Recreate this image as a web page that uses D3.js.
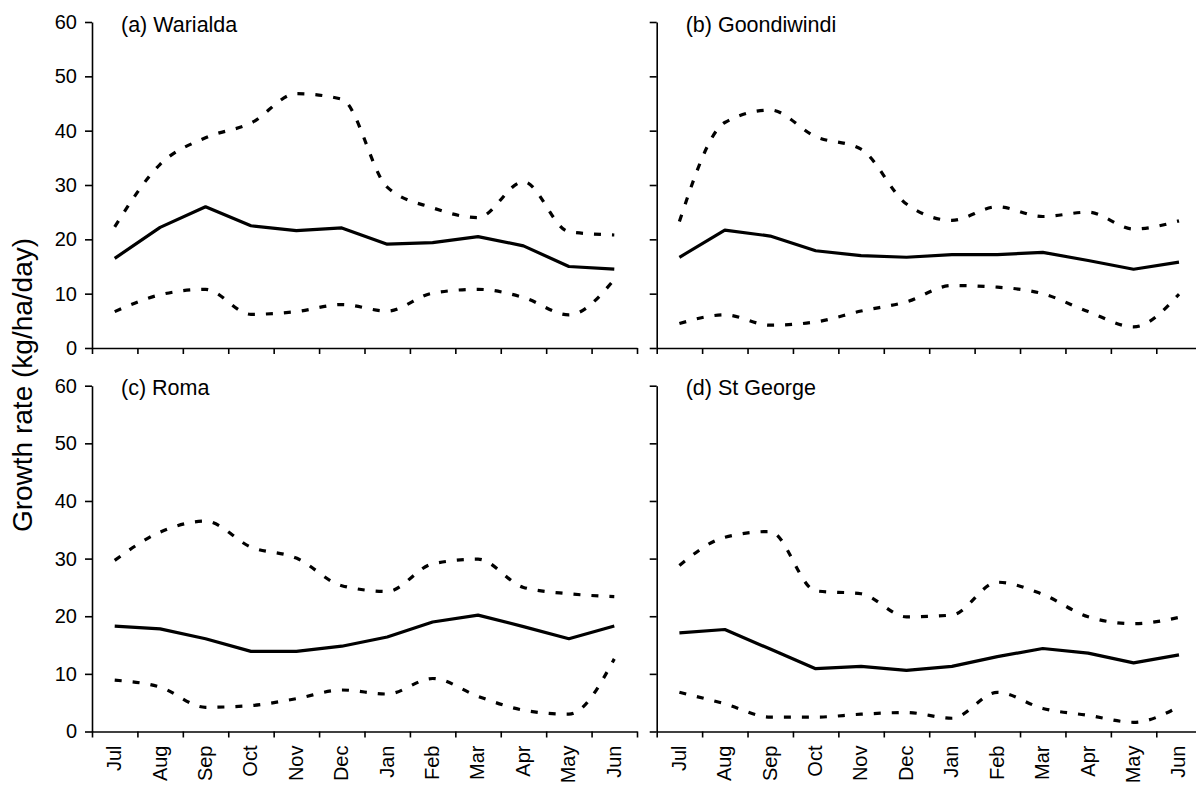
<!DOCTYPE html>
<html>
<head>
<meta charset="utf-8">
<script src="https://cdn.jsdelivr.net/npm/d3@7"></script>
<style>
  html, body { margin: 0; padding: 0; background: #fff; }
  svg { display: block; }
  text { font-family: "Liberation Sans", Arial, sans-serif; fill: #000; }
</style>
</head>
<body>
<svg id="chart" width="1196" height="785"></svg>
<script>
// Months of the growing year (July to June)
const months = ["Jul","Aug","Sep","Oct","Nov","Dec","Jan","Feb","Mar","Apr","May","Jun"];
const yTicks = [0, 10, 20, 30, 40, 50, 60];

// Warialda
const warialdaMean  = [16.5, 22.2, 26.0, 22.5, 21.6, 22.1, 19.1, 19.4, 20.5, 18.8, 15.0, 14.5];
const warialdaUpper = [22.3, 33.8, 38.7, 41.4, 46.8, 45.8, 29.6, 25.8, 24.0, 30.6, 21.4, 20.8];
const warialdaLower = [6.7, 9.8, 10.8, 6.2, 6.7, 8.0, 6.8, 10.1, 10.8, 9.3, 6.1, 12.6];

// Goondiwindi
const goondiwindiMean  = [16.7, 21.7, 20.6, 17.9, 17.0, 16.7, 17.2, 17.2, 17.6, 16.1, 14.5, 15.8];
const goondiwindiUpper = [23.3, 41.5, 43.8, 38.9, 36.6, 26.5, 23.5, 26.0, 24.2, 25.0, 21.9, 23.4];
const goondiwindiLower = [4.5, 6.1, 4.2, 4.8, 6.8, 8.5, 11.5, 11.2, 10.0, 6.7, 3.9, 9.9];

// Roma
const romaMean  = [18.3, 17.8, 16.1, 13.9, 13.9, 14.8, 16.4, 19.0, 20.2, 18.2, 16.1, 18.3];
const romaUpper = [29.7, 34.6, 36.5, 32.0, 30.1, 25.3, 24.3, 29.1, 29.9, 25.0, 23.9, 23.4];
const romaLower = [8.9, 7.7, 4.2, 4.5, 5.7, 7.2, 6.5, 9.2, 6.1, 3.7, 3.0, 12.6];

// St George
const stGeorgeMean  = [17.1, 17.7, 14.3, 10.9, 11.3, 10.6, 11.3, 13.0, 14.4, 13.6, 11.9, 13.3];
const stGeorgeUpper = [28.8, 33.7, 34.7, 24.4, 23.9, 19.9, 20.2, 25.9, 23.8, 19.9, 18.7, 19.8];
const stGeorgeLower = [6.8, 4.8, 2.5, 2.5, 3.0, 3.3, 2.3, 6.8, 4.0, 2.8, 1.6, 4.3];

const panelTitles = ["(a) Warialda", "(b) Goondiwindi", "(c) Roma", "(d) St George"];
const yAxisTitle = "Growth rate (kg/ha/day)";

const panels = [
  { title: panelTitles[0], mean: warialdaMean, upper: warialdaUpper, lower: warialdaLower, col: 0, row: 0 },
  { title: panelTitles[1], mean: goondiwindiMean, upper: goondiwindiUpper, lower: goondiwindiLower, col: 1, row: 0 },
  { title: panelTitles[2], mean: romaMean, upper: romaUpper, lower: romaLower, col: 0, row: 1 },
  { title: panelTitles[3], mean: stGeorgeMean, upper: stGeorgeUpper, lower: stGeorgeLower, col: 1, row: 1 }
];

const colX = [92, 656.7];          // y-axis position of each column
const plotW = 545;                 // x-axis length
const rowY = [[22, 348], [385.7, 731.5]]; // [top (60), bottom (0)] per row

const svg = d3.select("#chart");
svg.append("rect").attr("width", 1196).attr("height", 785).attr("fill", "#fff");

panels.forEach(p => {
  const x0 = colX[p.col];
  const [yTop, yBot] = rowY[p.row];

  const x = d3.scaleBand().domain(months).range([x0, x0 + plotW]).padding(0);
  const xc = m => x(m) + x.bandwidth() / 2;
  const y = d3.scaleLinear().domain([0, 60]).range([yBot, yTop]);

  const g = svg.append("g");

  // x axis: ticks on category boundaries
  const xEdge = d3.scaleLinear().domain([0, months.length]).range([x0, x0 + plotW]);
  const xAxis = g.append("g")
    .attr("transform", `translate(0,${yBot})`)
    .call(d3.axisBottom(xEdge).tickValues(d3.range(months.length + 1)).tickFormat("").tickSize(6).tickSizeOuter(0));
  xAxis.select(".domain").attr("stroke", "#000").attr("stroke-width", 1.6);
  xAxis.selectAll(".tick line").attr("stroke", "#000").attr("stroke-width", 1.6);

  // y axis
  const yAxis = g.append("g")
    .attr("transform", `translate(${x0},0)`)
    .call(d3.axisLeft(y).tickValues(yTicks).tickSize(7).tickSizeOuter(0).tickPadding(8)
      .tickFormat(p.col === 0 ? d3.format("d") : ""));
  yAxis.select(".domain").attr("stroke", "#000").attr("stroke-width", 1.6);
  yAxis.selectAll(".tick line").attr("stroke", "#000").attr("stroke-width", 1.6);
  yAxis.selectAll(".tick text")
    .attr("font-size", 20)
    .attr("font-family", "Liberation Sans, Arial, sans-serif")
    .attr("fill", "#000");

  // month labels under the bottom row
  if (p.row === 1) {
    g.selectAll("text.month").data(months).join("text")
      .attr("class", "month")
      .attr("transform", d => `translate(${xc(d)},${yBot + 14}) rotate(-90)`)
      .attr("text-anchor", "end")
      .attr("dy", "0.32em")
      .attr("font-size", 20)
      .text(d => d);
  }

  // panel title
  g.append("text")
    .attr("x", x0 + 29)
    .attr("y", yTop + 9.5)
    .attr("font-size", 21.5)
    .text(p.title);

  const toPts = arr => months.map((m, i) => [xc(m), y(arr[i])]);

  const smooth = d3.line().curve(d3.curveMonotoneX);
  const straight = d3.line();

  // upper and lower bounds: smoothed dashed lines
  [p.upper, p.lower].forEach(arr => {
    g.append("path")
      .attr("d", smooth(toPts(arr)))
      .attr("fill", "none")
      .attr("stroke", "#000")
      .attr("stroke-width", 3.2)
      .attr("stroke-dasharray", "7,11");
  });

  // mean: solid line
  g.append("path")
    .attr("d", straight(toPts(p.mean)))
    .attr("fill", "none")
    .attr("stroke", "#000")
    .attr("stroke-width", 3.2)
    .attr("stroke-linejoin", "round");
});

// shared y-axis title
svg.append("text")
  .attr("transform", "translate(32,385) rotate(-90)")
  .attr("text-anchor", "middle")
  .attr("font-size", 28)
  .text(yAxisTitle);
</script>
</body>
</html>
